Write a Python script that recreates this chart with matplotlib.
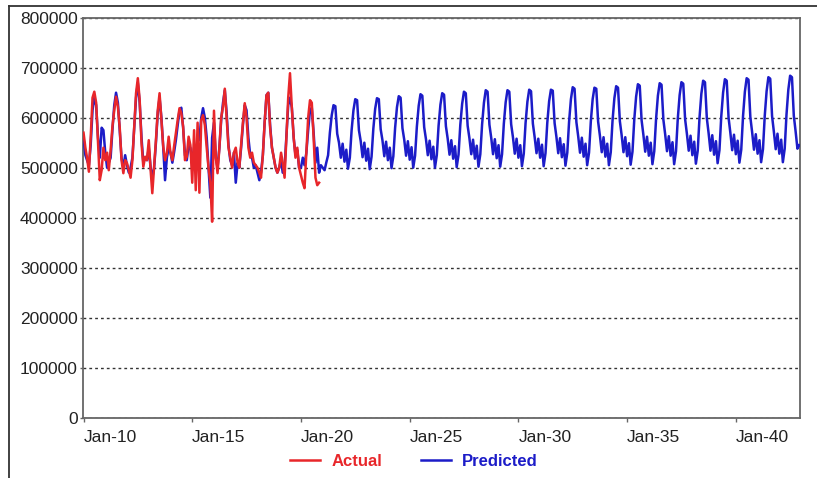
import numpy as np
import pandas as pd
import matplotlib
matplotlib.use("Agg")
import matplotlib.pyplot as plt
from matplotlib.lines import Line2D

plt.rcParams['font.family'] = ['Liberation Sans', 'DejaVu Sans']

# monthly values in thousands, one row per year (Jan..Dec)
actual = [
    [570, 540, 520, 492, 560, 640, 652, 630, 550, 475, 495, 540],  # 2010
    [515, 530, 495, 535, 582, 615, 642, 622, 580, 515, 489, 515],  # 2011
    [509, 495, 480, 515, 582, 649, 679, 635, 549, 502, 522, 515],  # 2012
    [555, 495, 449, 502, 555, 615, 649, 595, 542, 515, 529, 562],  # 2013
    [529, 515, 542, 569, 595, 619, 609, 582, 515, 522, 562, 545],  # 2014
    [470, 575, 455, 590, 450, 595, 605, 585, 540, 500, 470, 392],  # 2015
    [614, 520, 489, 540, 600, 622, 658, 600, 540, 520, 500, 530],  # 2016
    [540, 510, 500, 545, 590, 629, 600, 540, 520, 530, 510, 505],  # 2017
    [500, 490, 480, 525, 590, 645, 650, 580, 540, 520, 500, 490],  # 2018
    [500, 530, 510, 480, 560, 640, 689, 620, 560, 520, 540, 500],  # 2019
    [485, 470, 459, 530, 600, 635, 630, 560, 480, 465, 470],       # 2020 (to Nov)
]

predicted = [
    [560, 525, 515, 505, 545, 615, 640, 625, 560, 520, 580, 575],  # 2010
    [530, 500, 510, 520, 575, 625, 650, 630, 575, 520, 500, 525],  # 2011
    [505, 490, 500, 520, 580, 640, 670, 630, 560, 510, 520, 515],  # 2012
    [540, 500, 480, 500, 550, 610, 640, 600, 540, 475, 520, 540],  # 2013
    [530, 510, 530, 555, 585, 615, 620, 580, 525, 515, 545, 540],  # 2014
    [510, 540, 505, 565, 555, 600, 619, 600, 560, 500, 440, 560],  # 2015
    [590, 520, 500, 540, 595, 630, 655, 610, 545, 515, 505, 530],  # 2016
    [470, 510, 500, 540, 585, 625, 615, 560, 525, 520, 500, 505],  # 2017
    [490, 475, 490, 525, 590, 645, 650, 585, 540, 520, 500, 490],  # 2018
    [500, 515, 490, 500, 560, 625, 640, 620, 560, 525, 535, 500],  # 2019
    [500, 520, 505, 530, 575, 615, 620, 570, 510, 540, 490, 505],  # 2020
    [500, 495, 510, 525, 570, 605, 625, 623, 568, 550, 520, 548],  # 2021
    [512, 536, 498, 520, 575, 615, 637, 635, 575, 553, 521, 550],  # 2022
    [514, 538, 497, 522, 578, 618, 639, 637, 577, 555, 523, 552],  # 2023
    [515, 540, 499, 523, 580, 621, 643, 640, 579, 556, 524, 553],  # 2024
    [516, 541, 500, 524, 582, 624, 647, 644, 581, 557, 525, 554],  # 2025
    [517, 542, 500, 525, 584, 626, 649, 646, 583, 558, 526, 555],  # 2026
    [518, 543, 501, 526, 586, 628, 652, 649, 584, 559, 527, 556],  # 2027
    [518, 544, 502, 527, 587, 630, 655, 652, 586, 560, 527, 557],  # 2028
    [519, 545, 502, 527, 588, 631, 655, 652, 587, 561, 528, 558],  # 2029
    [520, 545, 503, 528, 589, 632, 656, 653, 588, 561, 529, 558],  # 2030
    [520, 546, 503, 529, 590, 633, 656, 654, 589, 562, 529, 559],  # 2031
    [521, 547, 504, 530, 592, 637, 661, 658, 591, 563, 530, 560],  # 2032
    [522, 548, 505, 530, 592, 637, 660, 658, 592, 564, 531, 561],  # 2033
    [522, 548, 505, 531, 594, 639, 663, 660, 593, 565, 531, 561],  # 2034
    [523, 549, 506, 532, 596, 642, 667, 664, 595, 566, 532, 562],  # 2035
    [524, 550, 507, 533, 597, 644, 669, 666, 596, 567, 533, 563],  # 2036
    [524, 551, 507, 533, 598, 645, 671, 668, 597, 568, 534, 564],  # 2037
    [525, 552, 508, 534, 600, 648, 674, 671, 599, 569, 534, 565],  # 2038
    [526, 553, 509, 535, 602, 650, 677, 674, 600, 570, 535, 566],  # 2039
    [527, 554, 510, 536, 603, 652, 679, 676, 601, 571, 536, 567],  # 2040
    [528, 555, 511, 537, 604, 653, 681, 678, 603, 572, 537, 568],  # 2041
    [528, 556, 511, 538, 606, 656, 684, 681, 604, 573, 538, 545],  # 2042
]

tick_years = [2010, 2015, 2020, 2025, 2030, 2035, 2040]
tick_labels = ['Jan-10', 'Jan-15', 'Jan-20', 'Jan-25', 'Jan-30', 'Jan-35', 'Jan-40']
y_ticks = [0, 100000, 200000, 300000, 400000, 500000, 600000, 700000, 800000]

act_vals = np.concatenate([np.array(r, float) for r in actual]) * 1000
pred_vals = np.concatenate([np.array(r, float) for r in predicted]) * 1000
act_dates = pd.date_range('2010-01-01', periods=len(act_vals), freq='MS')
pred_dates = pd.date_range('2010-01-01', periods=len(pred_vals), freq='MS')

RED = '#e8262a'
BLUE = '#1c1cc8'

fig = plt.figure(figsize=(8.17, 4.78), dpi=100)
ax = fig.add_axes([83.3 / 817, 1 - 417.7 / 478, (800 - 83.3) / 817, 400 / 478])

ax.plot(pred_dates, pred_vals, color=BLUE, lw=1.8, zorder=3)
ax.plot(act_dates, act_vals, color=RED, lw=1.8, zorder=4)

ax.set_ylim(0, 800000)
ax.set_xlim(pd.Timestamp('2009-12-28'), pd.Timestamp('2042-12-14'))
ax.set_yticks(y_ticks)
ax.set_yticklabels([str(v) for v in y_ticks])
ax.set_xticks([pd.Timestamp(f'{y}-01-01') for y in tick_years])
ax.set_xticklabels(tick_labels, ha='left')

ax.yaxis.grid(True, linestyle=(0, (2, 2.2)), color='#333333', lw=1.0)
ax.set_axisbelow(True)
for s in ax.spines.values():
    s.set_color('#666666')
    s.set_linewidth(1.3)

ax.tick_params(axis='x', length=3, width=1, color='#666666', pad=6,
               labelsize=12.5, labelcolor='#222222')
ax.tick_params(axis='y', length=2, width=1, color='#666666', pad=2,
               labelsize=12.5, labelcolor='#222222')

# outer frame (left and top edges)
fig.add_artist(Line2D([9 / 817, 9 / 817], [0, 1 - 6 / 478], transform=fig.transFigure,
                      color='#333333', lw=1.3))
fig.add_artist(Line2D([9 / 817, 1], [1 - 6 / 478, 1 - 6 / 478], transform=fig.transFigure,
                      color='#333333', lw=1.3))

handles = [Line2D([], [], color=RED, lw=1.8), Line2D([], [], color=BLUE, lw=1.8)]
leg = fig.legend(handles, ['Actual', 'Predicted'], loc='center', ncol=2,
                 bbox_to_anchor=(414 / 817, 1 - 461.7 / 478), frameon=False,
                 prop={'size': 12, 'weight': 'bold'}, handlelength=1.8,
                 handletextpad=0.7, columnspacing=2.3)
for t, c in zip(leg.get_texts(), [RED, BLUE]):
    t.set_color(c)

fig.savefig('out.png', dpi=100)
